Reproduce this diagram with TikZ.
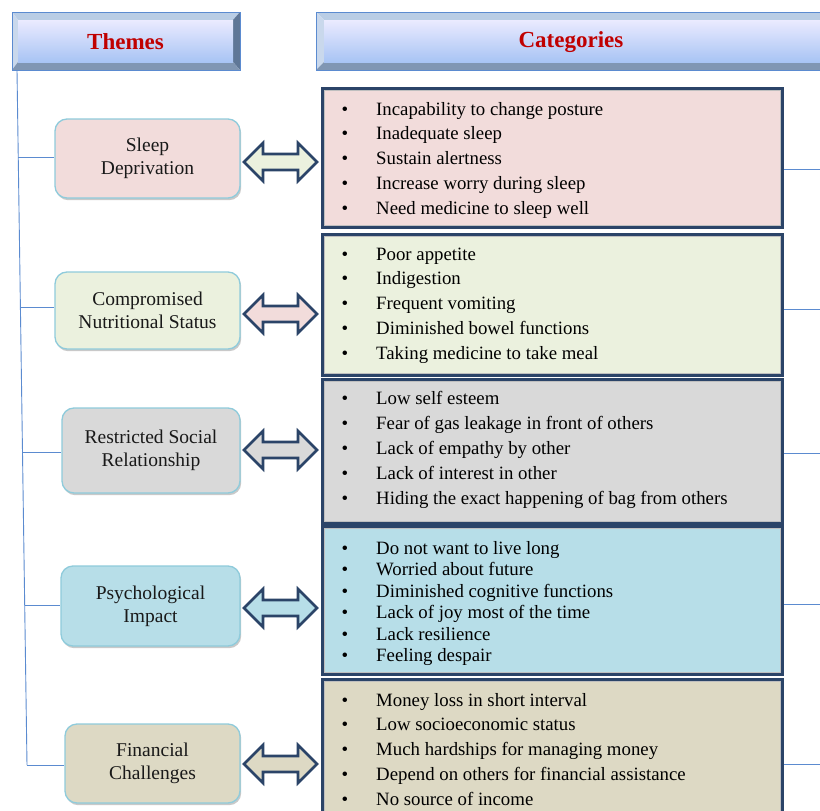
\documentclass[tikz,border=0pt]{standalone}
\usepackage{fontspec}
\setmainfont{Liberation Serif}
\usetikzlibrary{shadows,calc}
\definecolor{pinkf}{HTML}{F2DCDB}
\definecolor{greenf}{HTML}{EBF1DE}
\definecolor{grayf}{HTML}{D9D9D9}
\definecolor{bluef}{HTML}{B7DEE8}
\definecolor{tanf}{HTML}{DDD9C4}
\definecolor{navy}{HTML}{2B4468}
\definecolor{conn}{HTML}{5B8BD0}
\definecolor{tborder}{HTML}{8FCBDB}
\definecolor{titlered}{HTML}{C00000}
\definecolor{bevtop}{HTML}{B9CDE5}
\definecolor{bevleft}{HTML}{C9D8EC}
\definecolor{bevright}{HTML}{5F7797}
\definecolor{bevbot}{HTML}{8096B3}
\newcommand\itm[1]{\hbox{\hbox to 35pt{\hskip0.5pt\hbox{•}\hfil}#1}}
\newcommand\blockarrow[2]{%
  \draw[navy, line width=2.6pt, fill=#2, line join=miter]
    (244,#1) -- (263,#1-19) -- (263,#1-8) -- (298,#1-8) -- (298,#1-19) -- (317,#1)
    -- (298,#1+19) -- (298,#1+8) -- (263,#1+8) -- (263,#1+19) -- cycle;}
\tikzset{
  themebox/.style={draw=tborder, line width=1.3pt, rounded corners=12pt, align=center,
    font=\fontsize{19.5}{23}\selectfont, inner sep=2pt, text=black!90,
    drop shadow={shadow xshift=1.2pt, shadow yshift=-2.2pt, opacity=.35, fill=black!60}},
  catbox/.style={draw=navy, line width=3.6pt, inner sep=0pt},
  catlist/.style={anchor=base west, inner sep=0pt, font=\fontsize{18.8}{25}\selectfont},
  connline/.style={draw=conn, line width=0.9pt},
  headtitle/.style={text=titlered, font=\bfseries\fontsize{23}{26}\selectfont, inner sep=0pt}
}
\begin{document}
\begin{tikzpicture}[x=1pt, y=-1pt]
\useasboundingbox (0,0) rectangle (820,811);
\clip (0,0) rectangle (820,811);
\fill[white] (0,0) rectangle (820,811);

% ---- Themes header (bevelled)
\fill[bevtop] (12,12) -- (240,12) -- (233,20) -- (18,20) -- cycle;
\fill[bevleft] (12,12) -- (18,20) -- (18,62) -- (12,70) -- cycle;
\fill[bevright] (240,12) -- (240,70) -- (233,62) -- (233,20) -- cycle;
\fill[bevbot] (12,70) -- (240,70) -- (233,62) -- (18,62) -- cycle;
\shade[top color=blue!8!white, bottom color={rgb,255:red,168;green,196;blue,244}] (18,20) rectangle (233,62);
\draw[conn, line width=0.8pt] (12,12) rectangle (240,70);
\node[headtitle] (themes) at (125.5,42) {Themes};

% ---- Categories header (bevelled)
\fill[bevtop] (316,12) -- (830,12) -- (830,20) -- (324,20) -- cycle;
\fill[bevleft] (316,12) -- (324,20) -- (324,62) -- (316,70) -- cycle;
\fill[bevbot] (316,70) -- (830,70) -- (830,62) -- (324,62) -- cycle;
\shade[top color=blue!8!white, bottom color={rgb,255:red,168;green,196;blue,244}] (324,20) rectangle (830,62);
\draw[conn, line width=0.8pt] (830,12) -- (316,12) -- (316,70) -- (830,70);
\node[headtitle] (cats) at (571,42) {Categories};

% ---- Theme boxes
\node[themebox, fill=pinkf, minimum width=185pt, minimum height=79pt] (t1) at (147.5,158.5) {Sleep\\Deprivation};
\node[themebox, fill=greenf, minimum width=185pt, minimum height=77pt] (t2) at (147.5,310.5) {Compromised\\Nutritional Status};
\node[themebox, fill=grayf, minimum width=178pt, minimum height=85pt] (t3) at (151,450.5) {Restricted Social\\Relationship};
\node[themebox, fill=bluef, minimum width=179pt, minimum height=80pt] (t4) at (150.5,606) {Psychological\\Impact};
\node[themebox, fill=tanf, minimum width=175pt, minimum height=79pt] (t5) at (152.5,763.5) {Financial\\Challenges};

% ---- vertical tree line and branches
\coordinate (v0) at (17,70);
\coordinate (v5) at (27,765);
\coordinate (b1) at (18.3,157);
\coordinate (b2) at (20.4,307);
\coordinate (b3) at (22.5,452);
\coordinate (b4) at (24.7,605);
\draw[connline] (v0) -- (v5);
\draw[connline] (b1) -- (b1 -| t1.west);
\draw[connline] (b2) -- (b2 -| t2.west);
\draw[connline] (b3) -- (b3 -| t3.west);
\draw[connline] (b4) -- (b4 -| t4.west);
\draw[connline] (v5) -- (v5 -| t5.west);

% ---- double arrows
\blockarrow{162}{greenf}
\blockarrow{314}{pinkf}
\blockarrow{450}{grayf}
\blockarrow{608}{bluef}
\blockarrow{764}{tanf}

% ---- Category boxes
\node[catbox, fill=pinkf, minimum width=459pt, minimum height=138pt] (c1) at (552.5,158) {};
\node[catbox, fill=greenf, minimum width=459pt, minimum height=140pt] (c2) at (552.5,305) {};
\node[catbox, fill=grayf, minimum width=459pt, minimum height=143pt] (c3) at (552.5,451.5) {};
\node[catbox, fill=bluef, minimum width=459pt, minimum height=147pt] (c4) at (552.5,600.5) {};
\node[catbox, fill=tanf, minimum width=459pt, minimum height=150pt] (c5) at (552.5,755) {};
\foreach \c in {c1,c2,c3,c4,c5}{
  \draw[black!25, line width=0.8pt] ([shift={(3pt,-3pt)}]\c.north west) rectangle ([shift={(-3pt,3pt)}]\c.south east);
}

% ---- right connectors
\coordinate (r1) at (822,169);
\coordinate (r2) at (822,309);
\coordinate (r3) at (822,453);
\coordinate (r4) at (822,604);
\coordinate (r5) at (822,764);
\draw[connline] (c1.east |- r1) -- (r1);
\draw[connline] (c2.east |- r2) -- (r2);
\draw[connline] (c3.east |- r3) -- (r3);
\draw[connline] (c4.east |- r4) -- (r4);
\draw[connline] (c5.east |- r5) -- (r5);

% ---- lists
\node[catlist] (l1) at (341,115) {\vtop{\baselineskip=24.8pt
  \itm{Incapability to change posture}
  \itm{Inadequate sleep}
  \itm{Sustain alertness}
  \itm{Increase worry during sleep}
  \itm{Need medicine to sleep well}}};
\node[catlist] (l2) at (341,260) {\vtop{\baselineskip=24.8pt
  \itm{Poor appetite}
  \itm{Indigestion}
  \itm{Frequent vomiting}
  \itm{Diminished bowel functions}
  \itm{Taking medicine to take meal}}};
\node[catlist] (l3) at (341,404) {\vtop{\baselineskip=25.2pt
  \itm{Low self esteem}
  \itm{Fear of gas leakage in front of others}
  \itm{Lack of empathy by other}
  \itm{Lack of interest in other}
  \itm{Hiding the exact happening of bag from others}}};
\node[catlist] (l4) at (341,554) {\vtop{\baselineskip=21.5pt
  \itm{Do not want to live long}
  \itm{Worried about future}
  \itm{Diminished cognitive functions}
  \itm{Lack of joy most of the time}
  \itm{Lack resilience}
  \itm{Feeling despair}}};
\node[catlist] (l5) at (341,706) {\vtop{\baselineskip=24.8pt
  \itm{Money loss in short interval}
  \itm{Low socioeconomic status}
  \itm{Much hardships for managing money}
  \itm{Depend on others for financial assistance}
  \itm{No source of income}}};
\end{tikzpicture}
\end{document}
